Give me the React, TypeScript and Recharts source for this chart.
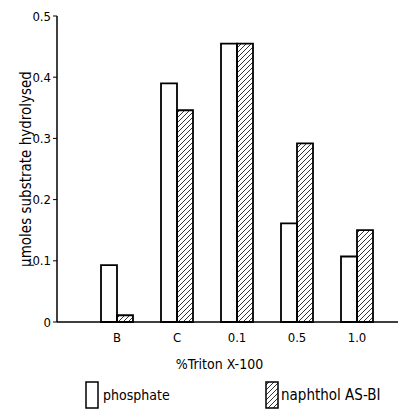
import { BarChart, Bar, XAxis, YAxis, Label } from "recharts";

const categories = ["B", "C", "0.1", "0.5", "1.0"];
const phosphate = [0.093, 0.39, 0.455, 0.161, 0.107];
const naphthol = [0.011, 0.346, 0.455, 0.292, 0.15];
const yTicks = [0, 0.1, 0.2, 0.3, 0.4, 0.5];
const seriesNames = ["phosphate", "naphthol AS-BI"];

const data = categories.map((c, i) => ({
  cat: c,
  phosphate: phosphate[i],
  naphthol: naphthol[i],
}));

const FONT = "'DejaVu Sans Condensed', 'Liberation Sans Narrow', sans-serif";

// swatch for the legend overlay
function Swatch({ hatched }: { hatched: boolean }) {
  return (
    <svg width={14} height={28} style={{ display: "block" }}>
      <defs>
        <pattern id="legHatch" width="5" height="5" patternUnits="userSpaceOnUse">
          <path d="M-1,1 L1,-1 M0,5 L5,0 M4,6 L6,4" stroke="#000" strokeWidth={0.8} />
        </pattern>
      </defs>
      <rect
        x={1}
        y={1}
        width={12}
        height={26}
        fill={hatched ? "url(#legHatch)" : "#fff"}
        stroke="#000"
        strokeWidth={1.5}
      />
    </svg>
  );
}

const legendStyle: React.CSSProperties = {
  position: "absolute",
  top: 381,
  display: "flex",
  alignItems: "center",
  fontFamily: FONT,
  color: "#000",
};

export default function App() {
  return (
    <div style={{ position: "absolute", left: 0, top: 0, width: 402, height: 413, background: "#fff" }}>
      <BarChart
        width={402}
        height={413}
        data={data}
        margin={{ top: 16, right: 4, bottom: 61, left: 0 }}
        barGap={0}
        barCategoryGap={14}
      >
        <defs>
          <pattern id="hatch" width="5" height="5" patternUnits="userSpaceOnUse">
            <path d="M-1,1 L1,-1 M0,5 L5,0 M4,6 L6,4" stroke="#000" strokeWidth={0.8} />
          </pattern>
        </defs>
        <XAxis
          dataKey="cat"
          height={30}
          padding={{ left: 30, right: 11 }}
          tickLine={false}
          axisLine={{ stroke: "#000", strokeWidth: 1.5 }}
          tick={{ fill: "#000", fontSize: 13, fontFamily: FONT }}
          tickMargin={5}
        >
          <Label
            value="%Triton X-100"
            position="insideBottom"
            offset={-17}
            dx={-8}
            style={{ fill: "#000", fontSize: 14, fontFamily: FONT }}
          />
        </XAxis>
        <YAxis
          width={57}
          domain={[0, 0.5]}
          ticks={yTicks}
          interval={0}
          tickSize={4}
          tickLine={{ stroke: "#000" }}
          axisLine={{ stroke: "#000", strokeWidth: 1.5 }}
          tick={{ fill: "#000", fontSize: 13, fontFamily: FONT }}
          tickMargin={2}
        >
          <Label
            value="μmoles substrate hydrolysed"
            angle={-90}
            position="insideLeft"
            offset={26}
            style={{ fill: "#000", fontSize: 15, fontFamily: FONT, textAnchor: "middle" }}
          />
        </YAxis>
        <Bar
          dataKey="phosphate"
          name={seriesNames[0]}
          fill="#fff"
          stroke="#000"
          strokeWidth={1.8}
          isAnimationActive={false}
        />
        <Bar
          dataKey="naphthol"
          name={seriesNames[1]}
          fill="url(#hatch)"
          stroke="#000"
          strokeWidth={1.8}
          isAnimationActive={false}
        />
      </BarChart>
      <div style={{ ...legendStyle, left: 85, fontSize: 14 }}>
        <Swatch hatched={false} />
        <span style={{ marginLeft: 4 }}>{seriesNames[0]}</span>
      </div>
      <div style={{ ...legendStyle, left: 265, fontSize: 15 }}>
        <Swatch hatched={true} />
        <span style={{ marginLeft: 2 }}>{seriesNames[1]}</span>
      </div>
    </div>
  );
}
